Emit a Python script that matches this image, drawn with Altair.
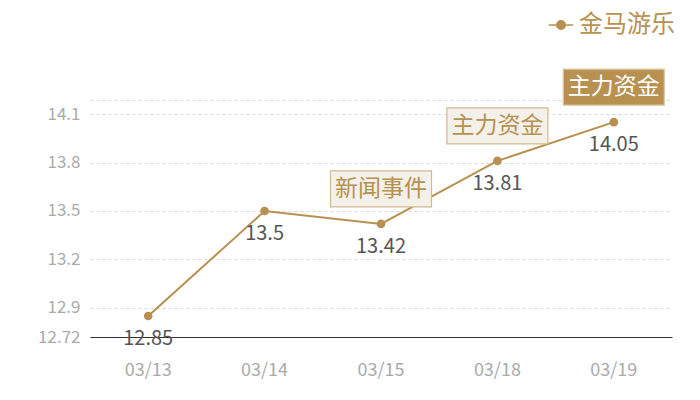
import altair as alt
import pandas as pd

dates = ["03/13", "03/14", "03/15", "03/18", "03/19"]
values = [12.85, 13.5, 13.42, 13.81, 14.05]
series_name = "金马游乐"

ann_dates = ["03/15", "03/18", "03/19"]
ann_values = [13.42, 13.81, 14.05]
ann_text = ["新闻事件", "主力资金", "主力资金"]
ann_kind = ["light", "light", "dark"]

y_ticks = [12.72, 12.9, 13.2, 13.5, 13.8, 14.1, 14.187]
y_min, y_max = 12.72, 14.187

TAN = "#b8904f"
FONT = "Noto Sans CJK SC"

df = pd.DataFrame({"date": dates, "value": values, "series": [series_name] * len(dates)})
adf = pd.DataFrame({"date": ann_dates, "value": ann_values, "text": ann_text, "kind": ann_kind})

x = alt.X("date:N", sort=dates, title=None,
          scale=alt.Scale(paddingInner=0, paddingOuter=0),
          axis=alt.Axis(labelAngle=0, ticks=False, grid=False, domainColor="#333333", domainWidth=1.2,
                        labelColor="#aaaaaa", labelFontSize=18, labelPadding=24, labelFont=FONT))
y = alt.Y("value:Q", title=None,
          scale=alt.Scale(domain=[y_min, y_max], nice=False, zero=False),
          axis=alt.Axis(values=y_ticks, format=".2~f", domain=False, ticks=False,
                        labelExpr="datum.value > 14.15 ? '' : datum.label",
                        labelColor="#aaaaaa", labelFontSize=17, labelPadding=10, labelFont=FONT,
                        gridColor="#d6d6d6", gridDash=[3, 3], gridWidth=1))

line = alt.Chart(df).mark_line(strokeWidth=2).encode(
    x=x, y=y,
    color=alt.Color("series:N", title=None,
                    scale=alt.Scale(range=[TAN]),
                    legend=alt.Legend(orient="none", legendX=459, legendY=-87, padding=0,
                                      labelLimit=400,
                                      symbolType="M-1.2,0 L-0.4,0 M0.4,0 L1.2,0 M0.42,0 A0.42,0.42 0 1,1 -0.42,0 A0.42,0.42 0 1,1 0.42,0",
                                      symbolSize=420, symbolStrokeWidth=1.5,
                                      symbolFillColor=TAN, symbolStrokeColor=TAN,
                                      labelFontSize=24, labelColor=TAN, labelFont=FONT,
                                      labelOffset=6))
)
points = alt.Chart(df).mark_circle(size=75, color=TAN, opacity=1).encode(x=x, y=y)
labels = alt.Chart(df).mark_text(dy=23, fontSize=20, color="#555555", font=FONT).encode(
    x=x, y=y, text=alt.Text("value:Q", format="~g"))

boxes = alt.Chart(adf).mark_rect(width=101, height=36, yOffset=-35, strokeWidth=1.2).encode(
    x=x, y=y,
    fill=alt.Fill("kind:N", scale=alt.Scale(domain=["light", "dark"], range=["#f4f0ea", "#b8904f"]), legend=None),
    stroke=alt.Stroke("kind:N", scale=alt.Scale(domain=["light", "dark"], range=["#d2b98f", "#dcc7a3"]), legend=None),
)
box_text = alt.Chart(adf).mark_text(dy=-35, fontSize=23, font=FONT).encode(
    x=x, y=y, text="text:N",
    color=alt.Color("kind:N", scale=alt.Scale(domain=["light", "dark"], range=[TAN, "#ffffff"]), legend=None),
)

chart = alt.layer(line, points, labels, boxes, box_text).resolve_scale(
    color="independent", fill="independent", stroke="independent"
).properties(
    width=582, height=237,
    background="white",
    autosize=alt.AutoSizeParams(type="none"),
    padding={"left": 82, "top": 92, "right": 20, "bottom": 55},
).configure_view(strokeWidth=0, stroke="transparent")

chart.save("out.html", embed_options={"renderer": "svg", "actions": False})
